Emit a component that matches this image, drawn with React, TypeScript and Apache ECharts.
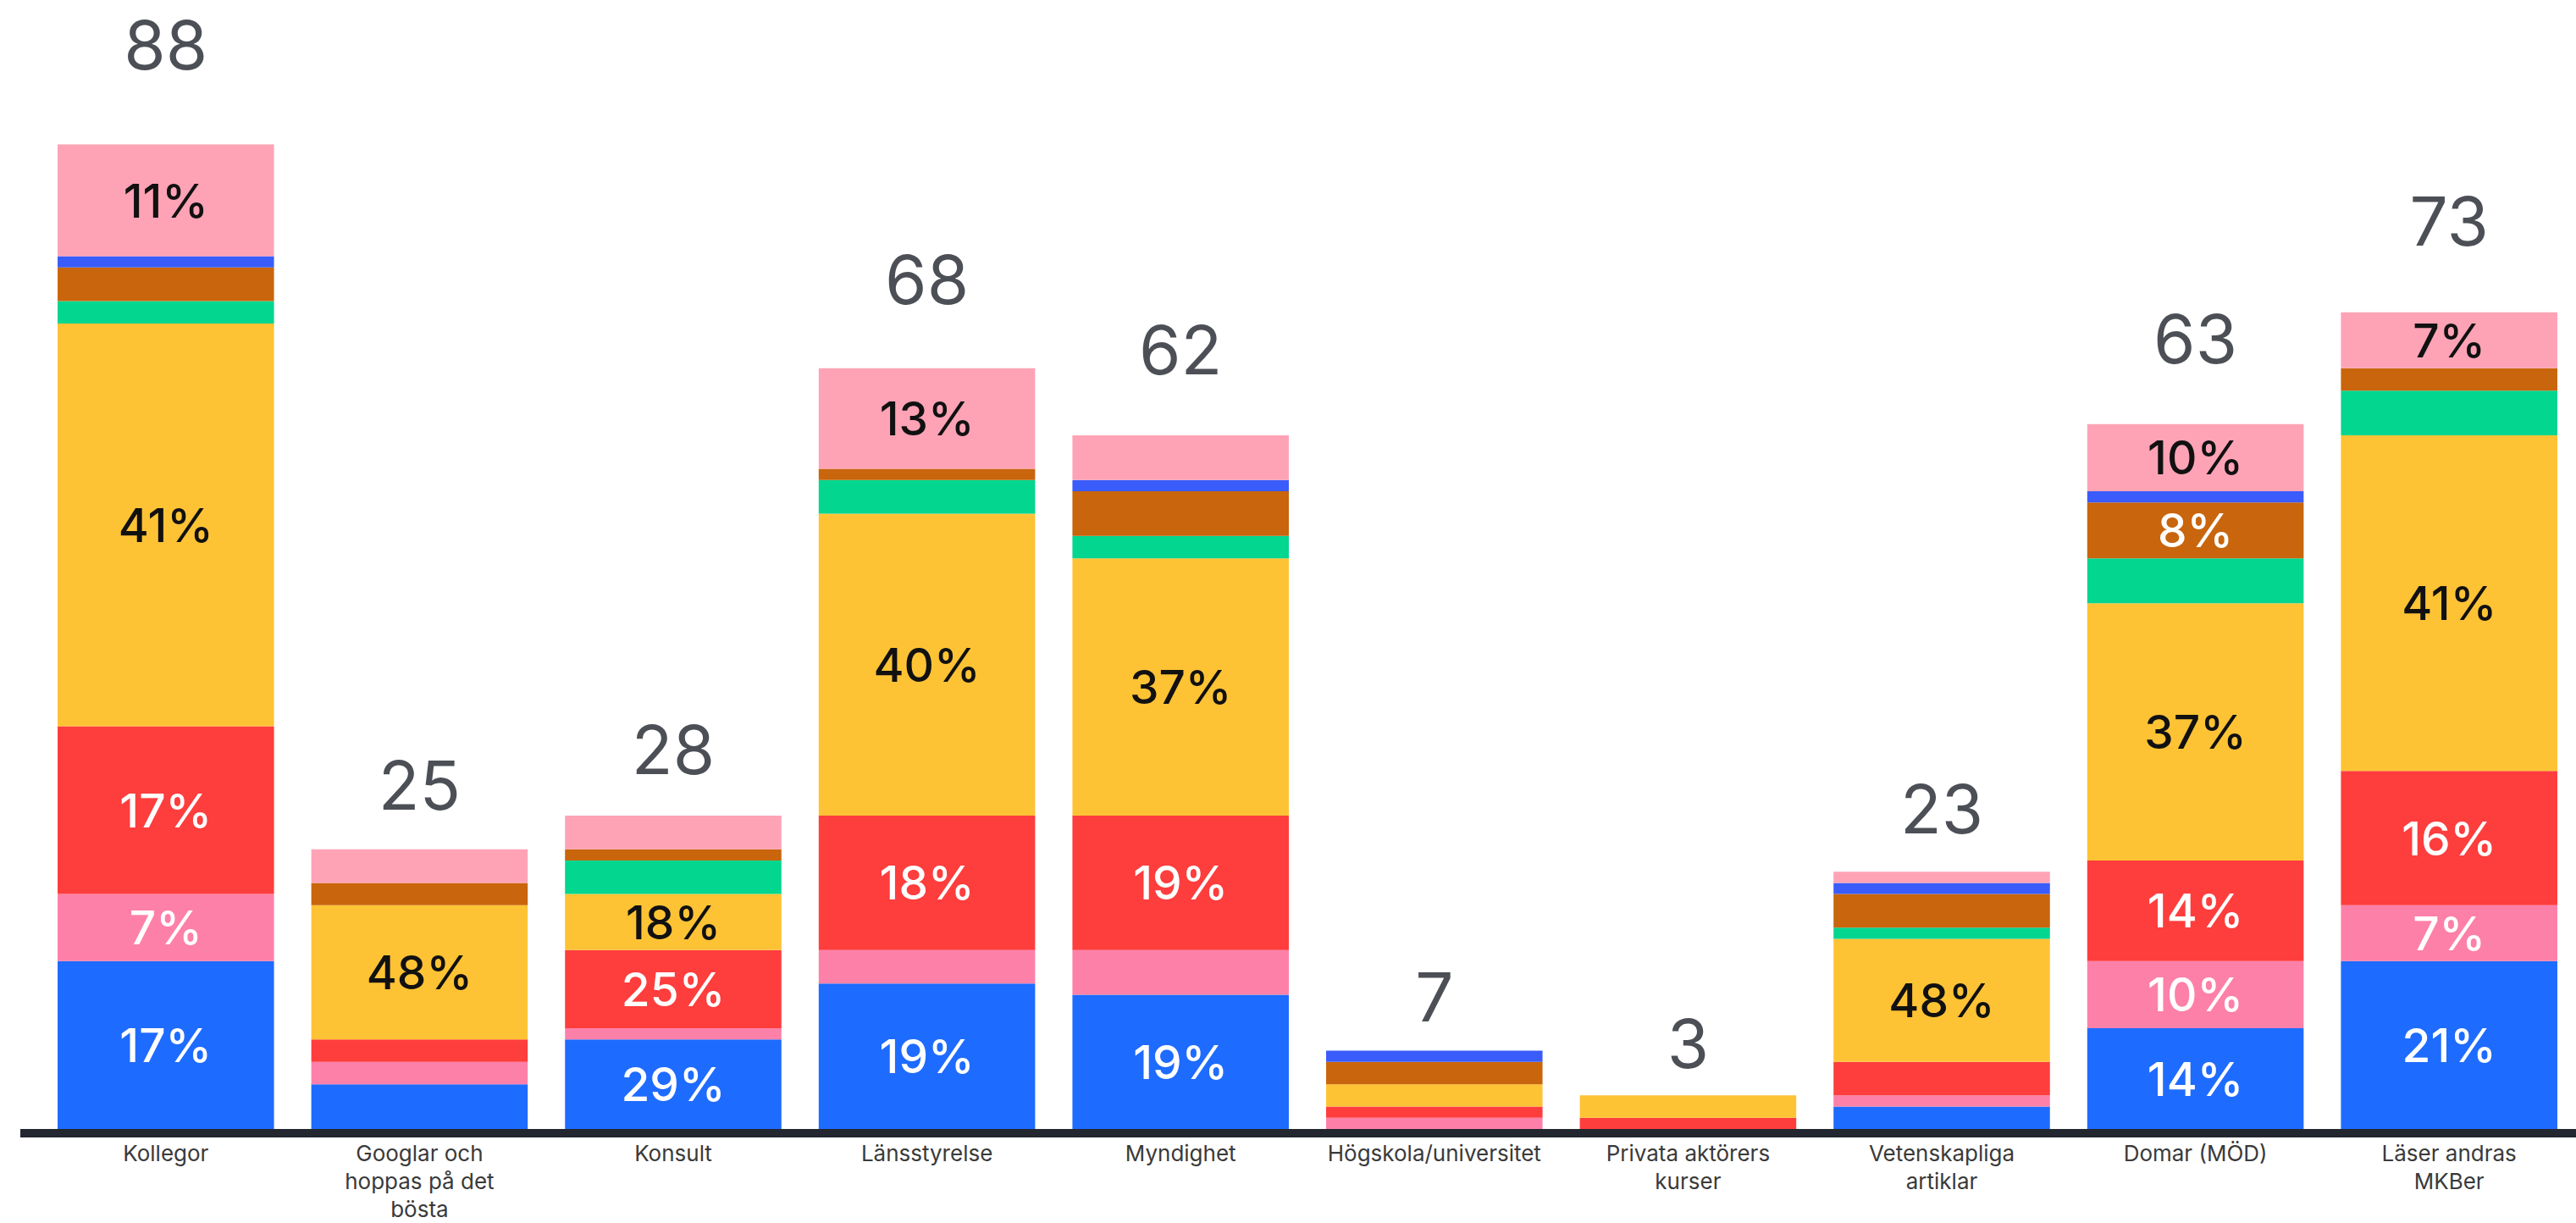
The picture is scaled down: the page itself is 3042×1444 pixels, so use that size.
import React, { useEffect, useRef } from "react";
import * as echarts from "echarts";

const categories = [
  "Kollegor",
  "Googlar och\nhoppas på det\nbösta",
  "Konsult",
  "Länsstyrelse",
  "Myndighet",
  "Högskola/universitet",
  "Privata aktörers\nkurser",
  "Vetenskapliga\nartiklar",
  "Domar (MÖD)",
  "Läser andras\nMKBer",
];

const totals = [88, 25, 28, 68, 62, 7, 3, 23, 63, 73];

// counts per segment, stacked bottom to top
const blue = [15, 4, 8, 13, 12, 0, 0, 2, 9, 15];
const pink = [6, 2, 1, 3, 4, 1, 0, 1, 6, 5];
const red = [15, 2, 7, 12, 12, 1, 1, 3, 9, 12];
const yellow = [36, 12, 5, 27, 23, 2, 2, 11, 23, 30];
const green = [2, 0, 3, 3, 2, 0, 0, 1, 4, 4];
const brown = [3, 2, 1, 1, 4, 2, 0, 3, 5, 2];
const violetBlue = [1, 0, 0, 0, 1, 1, 0, 1, 1, 0];
const lightPink = [10, 3, 3, 9, 4, 0, 0, 1, 6, 5];

const seriesNames = ["Blå", "Rosa", "Röd", "Gul", "Grön", "Brun", "Lila", "Ljusrosa"];
const seriesColors = ["#1e6bff", "#fd80a9", "#fe3d3d", "#fec334", "#03d68f", "#c9650c", "#3a5cfa", "#fea3b6"];
const labelColors = ["#ffffff", "#ffffff", "#ffffff", "#111111", "#111111", "#ffffff", "#ffffff", "#111111"];

export default function App() {
  const ref = useRef<HTMLDivElement>(null);

  useEffect(() => {
    if (!ref.current) return;
    const chart = echarts.init(ref.current, null, { renderer: "svg" });
    const stacks = [blue, pink, red, yellow, green, brown, violetBlue, lightPink];

    const series: any[] = stacks.map((arr, si) => ({
      type: "bar",
      name: seriesNames[si],
      stack: "total",
      barCategoryGap: "14.7%",
      itemStyle: { color: seriesColors[si] },
      data: arr.map((v, i) => ({
        value: v,
        label: {
          show: v >= 5,
          position: "inside",
          formatter: Math.round((v / totals[i]) * 100) + "%",
          color: labelColors[si],
          fontSize: 55,
          fontFamily: "Inter",
          fontWeight: 500,
        },
      })),
    }));

    series.push({
      type: "scatter",
      name: "Totalt",
      symbolSize: 1,
      itemStyle: { color: "rgba(0,0,0,0)" },
      z: 5,
      data: totals.map((v) => ({
        value: v,
        label: { distance: Math.round(19 + 0.67 * v) },
      })),
      label: {
        show: true,
        position: "top",
        formatter: "{c}",
        fontSize: 80,
        fontFamily: "Inter",
        fontWeight: 400,
        color: "#1f232b",
      },
    });

    chart.setOption({
      animation: false,
      backgroundColor: "#ffffff",
      grid: { left: 46, right: -7, top: 12, bottom: 107 },
      xAxis: {
        type: "category",
        data: categories,
        axisLine: { show: false },
        axisTick: { show: false },
        axisLabel: {
          margin: 12,
          fontSize: 26,
          lineHeight: 33,
          fontFamily: "Inter",
          color: "#3a3a3a",
          interval: 0,
        },
      },
      yAxis: {
        type: "value",
        min: 0,
        max: 100,
        show: false,
        splitLine: { show: false },
      },
      series,
    });

    const base = chart.convertToPixel({ gridIndex: 0 } as any, [0, 0]) as number[];
    const width = chart.getWidth();
    chart.setOption({
      graphic: [
        {
          type: "line",
          z: 10,
          shape: { x1: 24, y1: base[1] + 5, x2: width, y2: base[1] + 5 },
          style: { stroke: "#23272f", lineWidth: 10 },
        },
      ],
    });

    return () => chart.dispose();
  }, []);

  return (
    <div
      ref={ref}
      style={{ position: "fixed", left: 0, top: 0, width: "100vw", height: "100vh" }}
    />
  );
}
